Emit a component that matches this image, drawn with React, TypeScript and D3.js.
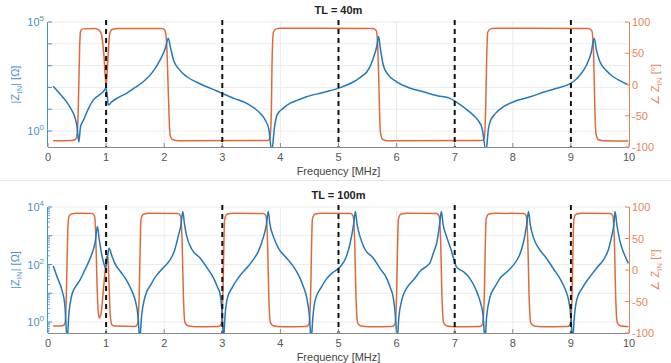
import React from "react";
import * as d3 from "d3";

const xTicks = [0, 1, 2, 3, 4, 5, 6, 7, 8, 9, 10];
const markerFreqs = [1, 3, 5, 7, 9];
const phaseTicks = [-100, -50, 0, 50, 100];

// TL = 40m : |Z_IN| as log10(ohm), phase in degrees
const freqMag40 = [0.09, 0.2, 0.32, 0.4, 0.46, 0.5, 0.53, 0.56, 0.61, 0.7, 0.78, 0.88, 0.95, 1.0, 1.02, 1.04, 1.1, 1.2, 1.35, 1.5, 1.64, 1.8, 1.93, 2.02, 2.07, 2.11, 2.16, 2.25, 2.39, 2.55, 2.73, 2.9, 3.02, 3.2, 3.42, 3.55, 3.65, 3.75, 3.8, 3.85, 3.9, 3.94, 4.05, 4.17, 4.3, 4.45, 4.75, 5.03, 5.2, 5.31, 5.42, 5.49, 5.55, 5.6, 5.66, 5.69, 5.72, 5.77, 5.85, 6.0, 6.2, 6.46, 6.7, 6.92, 7.03, 7.2, 7.32, 7.4, 7.47, 7.54, 7.58, 7.61, 7.7, 7.84, 8.05, 8.3, 8.55, 8.76, 9.04, 9.15, 9.27, 9.35, 9.4, 9.44, 9.5, 9.6, 9.73, 9.85, 9.99];
const logMag40 = [2.06, 1.72, 1.34, 1.0, 0.66, 0.2, -0.5, 0.2, 0.5, 1.05, 1.42, 1.65, 1.8, 1.96, 1.6, 1.19, 1.35, 1.52, 1.73, 2.0, 2.26, 2.7, 3.26, 3.8, 4.25, 3.8, 3.26, 2.85, 2.49, 2.25, 2.03, 1.85, 1.7, 1.5, 1.27, 1.05, 0.82, 0.45, 0.1, -0.9, 0.2, 0.73, 1.05, 1.28, 1.42, 1.57, 1.78, 1.99, 2.18, 2.34, 2.55, 2.72, 3.0, 3.35, 3.9, 4.33, 3.8, 3.03, 2.6, 2.26, 2.0, 1.8, 1.62, 1.5, 1.33, 1.0, 0.73, 0.5, 0.14, -0.9, 0.1, 0.43, 0.8, 1.12, 1.38, 1.57, 1.8, 1.96, 2.26, 2.55, 3.03, 3.6, 4.25, 3.7, 3.18, 2.8, 2.49, 2.3, 2.11];
const freqPh40 = [0.09, 0.4, 0.47, 0.5, 0.52, 0.53, 0.545, 0.56, 0.6, 0.8, 0.88, 0.92, 0.96, 1.0, 1.03, 1.06, 1.1, 1.2, 1.95, 2.01, 2.04, 2.06, 2.08, 2.1, 2.14, 2.25, 3.78, 3.82, 3.845, 3.855, 3.88, 3.93, 4.0, 5.6, 5.65, 5.68, 5.7, 5.72, 5.76, 5.85, 7.47, 7.51, 7.535, 7.55, 7.57, 7.62, 7.7, 9.3, 9.36, 9.39, 9.41, 9.43, 9.47, 9.55, 9.99];
const phase40 = [-90, -89.5, -88, -80, -40, 0, 60, 85, 89, 89.5, 87, 80, 50, -2, 40, 80, 88, 89.5, 89.5, 87, 70, 20, -40, -80, -88, -90, -89.5, -86, -40, 30, 84, 89, 90, 89.5, 86, 50, -20, -75, -88, -90, -89.5, -86, -30, 40, 84, 89, 90, 89.5, 86, 50, -30, -78, -88, -90, -90.5];

// TL = 100m
const freqMag100 = [0.09, 0.16, 0.24, 0.29, 0.33, 0.36, 0.41, 0.48, 0.55, 0.62, 0.69, 0.76, 0.81, 0.85, 0.88, 0.92, 0.96, 0.99, 1.02, 1.05, 1.1, 1.15, 1.25, 1.35, 1.45, 1.5, 1.55, 1.58, 1.61, 1.67, 1.77, 1.87, 2.0, 2.1, 2.18, 2.24, 2.29, 2.32, 2.35, 2.39, 2.47, 2.62, 2.75, 2.85, 2.92, 2.96, 3.0, 3.02, 3.05, 3.08, 3.17, 3.3, 3.45, 3.53, 3.63, 3.71, 3.76, 3.79, 3.82, 3.88, 3.97, 4.11, 4.25, 4.34, 4.41, 4.45, 4.5, 4.53, 4.56, 4.6, 4.7, 4.8, 4.92, 5.03, 5.13, 5.2, 5.26, 5.29, 5.32, 5.37, 5.45, 5.6, 5.72, 5.83, 5.9, 5.94, 5.98, 6.01, 6.04, 6.09, 6.18, 6.29, 6.42, 6.57, 6.65, 6.69, 6.74, 6.77, 6.8, 6.86, 6.94, 7.03, 7.15, 7.26, 7.36, 7.43, 7.49, 7.52, 7.55, 7.61, 7.7, 7.78, 7.9, 8.01, 8.12, 8.18, 8.24, 8.27, 8.3, 8.35, 8.45, 8.58, 8.7, 8.81, 8.9, 8.96, 9.0, 9.03, 9.06, 9.1, 9.2, 9.33, 9.45, 9.56, 9.65, 9.7, 9.74, 9.76, 9.79, 9.84, 9.91, 9.99];
const logMag100 = [1.95, 1.55, 1.11, 0.6, -0.6, 0.3, 0.94, 1.25, 1.46, 1.75, 2.05, 2.4, 2.75, 3.32, 2.9, 2.4, 2.05, 1.88, 2.2, 2.57, 2.3, 2.04, 1.75, 1.46, 1.05, 0.77, 0.2, -0.6, 0.2, 0.88, 1.3, 1.63, 1.92, 2.16, 2.5, 2.97, 3.4, 3.84, 3.4, 2.97, 2.55, 2.22, 1.85, 1.53, 1.2, 1.0, 0.2, -0.6, 0.3, 0.77, 1.2, 1.6, 1.95, 2.16, 2.5, 2.97, 3.4, 3.84, 3.4, 2.97, 2.55, 2.22, 1.85, 1.52, 1.15, 0.88, 0.2, -0.6, 0.2, 0.77, 1.2, 1.52, 1.75, 1.92, 2.25, 2.74, 3.4, 3.84, 3.4, 2.97, 2.55, 2.22, 1.85, 1.52, 1.15, 0.88, 0.2, -0.6, 0.2, 0.77, 1.2, 1.46, 1.8, 2.05, 2.5, 2.74, 3.4, 3.84, 3.4, 2.97, 2.5, 1.92, 1.75, 1.52, 1.15, 0.77, 0.2, -0.6, 0.2, 0.88, 1.25, 1.52, 1.75, 1.98, 2.35, 2.74, 3.4, 3.84, 3.4, 2.97, 2.55, 2.22, 1.85, 1.52, 1.15, 0.77, 0.2, -0.6, 0.2, 0.77, 1.2, 1.58, 1.9, 2.16, 2.55, 2.97, 3.4, 3.84, 3.4, 2.85, 2.4, 2.04];
const freqPh100 = [0.09, 0.25, 0.29, 0.31, 0.325, 0.34, 0.36, 0.4, 0.5, 0.76, 0.8, 0.82, 0.84, 0.86, 0.88, 0.9, 0.92, 0.95, 0.98, 1.01, 1.03, 1.05, 1.07, 1.1, 1.15, 1.5, 1.54, 1.57, 1.585, 1.6, 1.64, 1.75, 2.24, 2.28, 2.31, 2.33, 2.36, 2.42, 2.55, 2.94, 2.98, 3.01, 3.025, 3.04, 3.08, 3.19, 3.71, 3.75, 3.78, 3.8, 3.83, 3.89, 4.02, 4.45, 4.49, 4.52, 4.535, 4.55, 4.59, 4.7, 5.21, 5.25, 5.28, 5.3, 5.33, 5.39, 5.52, 5.93, 5.97, 6.0, 6.015, 6.03, 6.07, 6.18, 6.69, 6.73, 6.76, 6.78, 6.81, 6.87, 7.0, 7.44, 7.48, 7.51, 7.525, 7.54, 7.58, 7.69, 8.19, 8.23, 8.26, 8.28, 8.31, 8.37, 8.5, 8.95, 8.99, 9.02, 9.035, 9.05, 9.09, 9.2, 9.68, 9.72, 9.75, 9.77, 9.8, 9.86, 9.99];
const phase100 = [-89, -88.5, -85, -60, 0, 60, 85, 89, 90, 89.5, 86, 60, -10, -60, -76, -74, -65, -35, -5, 22, 20, -20, -70, -87, -89, -89.5, -86, -40, 30, 80, 88.5, 90, 89.5, 86, 40, -40, -84, -89, -90, -89.5, -86, -40, 30, 80, 88.5, 90, 89.5, 86, 40, -40, -84, -89, -90, -89.5, -86, -40, 30, 80, 88.5, 90, 89.5, 86, 40, -40, -84, -89, -90, -89.5, -86, -40, 30, 80, 88.5, 90, 89.5, 86, 40, -40, -84, -89, -90, -89.5, -86, -40, 30, 80, 88.5, 90, 89.5, 86, 40, -40, -84, -89, -90, -89.5, -86, -40, 30, 80, 88.5, 90, 89.5, 86, 40, -40, -84, -89, -90];

const BLUE = "#2079bb";
const ORANGE = "#e2683a";
const BLUE_TXT = "#4a92c9";
const ORANGE_TXT = "#e48558";
const FONT = "'Liberation Sans', Arial, sans-serif";

type PanelProps = {
  id: string;
  title: string;
  top: number;
  bottom: number;
  logMin: number;
  logMax: number;
  labelDecades: number[];
  minor: boolean;
  fMag: number[];
  vMag: number[];
  fPh: number[];
  vPh: number[];
};

function Panel(p: PanelProps) {
  const left = 48;
  const right = 629;
  const x = d3.scaleLinear().domain([0, 10]).range([left, right]);
  const yMag = d3.scaleLog().domain([10 ** p.logMin, 10 ** p.logMax]).range([p.bottom, p.top]);
  const yPh = d3.scaleLinear().domain([-100, 100]).range([p.bottom, p.top]);

  const magLine = d3
    .line<[number, number]>()
    .x((d) => x(d[0]))
    .y((d) => yMag(10 ** d[1]))
    .curve(d3.curveMonotoneX);
  const phLine = d3
    .line<[number, number]>()
    .x((d) => x(d[0]))
    .y((d) => yPh(d[1]))
    .curve(d3.curveMonotoneX);

  const decades = d3.range(Math.ceil(p.logMin), Math.floor(p.logMax) + 1);
  const minorTicks: number[] = [];
  if (p.minor) {
    for (let k = Math.floor(p.logMin); k < p.logMax; k++) {
      for (let m = 2; m <= 9; m++) {
        const v = m * 10 ** k;
        if (v > 10 ** p.logMin && v < 10 ** p.logMax) minorTicks.push(v);
      }
    }
  }
  const midY = (p.top + p.bottom) / 2;

  return (
    <g fontFamily={FONT}>
      <defs>
        <clipPath id={p.id}>
          <rect x={left} y={p.top - 2} width={right - left} height={p.bottom - p.top + 2} />
        </clipPath>
      </defs>
      {/* grid */}
      {xTicks.slice(1, -1).map((t) => (
        <line key={"gx" + t} x1={x(t)} x2={x(t)} y1={p.top} y2={p.bottom} stroke="#ebebeb" strokeWidth={1} />
      ))}
      {decades.map((k) => (
        <line key={"gy" + k} x1={left} x2={right} y1={yMag(10 ** k)} y2={yMag(10 ** k)} stroke="#ebebeb" strokeWidth={1} />
      ))}
      {/* curves */}
      <g clipPath={`url(#${p.id})`}>
        <path d={phLine(d3.zip(p.fPh, p.vPh) as [number, number][]) || ""} fill="none" stroke={ORANGE} strokeWidth={1.5} />
        <path d={magLine(d3.zip(p.fMag, p.vMag) as [number, number][]) || ""} fill="none" stroke={BLUE} strokeWidth={1.5} />
      </g>
      {/* dashed markers */}
      {markerFreqs.map((f) => (
        <line key={"m" + f} x1={x(f)} x2={x(f)} y1={p.top - 2} y2={p.bottom} stroke="#111" strokeWidth={2} strokeDasharray="5,4" />
      ))}
      {/* x axis */}
      <line x1={left} x2={right} y1={p.bottom + 0.5} y2={p.bottom + 0.5} stroke="#8a8a8a" strokeWidth={1} />
      {xTicks.map((t) => (
        <g key={"xt" + t}>
          <line x1={x(t)} x2={x(t)} y1={p.bottom} y2={p.bottom - 4} stroke="#8a8a8a" />
          <text x={x(t)} y={p.bottom + 14} textAnchor="middle" fontSize={11} fill="#555">
            {t}
          </text>
        </g>
      ))}
      <text x={(left + right) / 2} y={p.bottom + 28} textAnchor="middle" fontSize={11} fill="#444">
        Frequency [MHz]
      </text>
      {/* left axis */}
      <line x1={left - 0.5} x2={left - 0.5} y1={p.top} y2={p.bottom} stroke={BLUE_TXT} strokeWidth={1} />
      {decades.map((k) => (
        <line key={"lt" + k} x1={left} x2={left + 4} y1={yMag(10 ** k)} y2={yMag(10 ** k)} stroke={BLUE_TXT} />
      ))}
      {minorTicks.map((v, i) => (
        <line key={"mt" + i} x1={left} x2={left + 2} y1={yMag(v)} y2={yMag(v)} stroke={BLUE_TXT} strokeWidth={0.8} />
      ))}
      {p.labelDecades.map((k) => (
        <text key={"ll" + k} x={left - 4} y={yMag(10 ** k) + 4} textAnchor="end" fontSize={11} fill={BLUE_TXT}>
          <tspan>10</tspan>
          <tspan dy={-5} fontSize={8}>
            {k}
          </tspan>
        </text>
      ))}
      <text transform={`translate(19,${midY}) rotate(-90)`} textAnchor="middle" fontSize={11} fill={BLUE_TXT}>
        <tspan>|Z</tspan>
        <tspan dy={3} fontSize={8}>IN</tspan>
        <tspan dy={-3}>| [Ω]</tspan>
      </text>
      {/* right axis */}
      <line x1={right + 0.5} x2={right + 0.5} y1={p.top} y2={p.bottom} stroke={ORANGE_TXT} strokeWidth={1} />
      {phaseTicks.map((t) => (
        <g key={"rt" + t}>
          <line x1={right} x2={right - 4} y1={yPh(t)} y2={yPh(t)} stroke={ORANGE_TXT} />
          <text x={right + 3} y={yPh(t) + 4} fontSize={11} fill={ORANGE_TXT}>
            {t}
          </text>
        </g>
      ))}
      <text transform={`translate(659,${midY}) rotate(-90)`} textAnchor="middle" fontSize={11} fill={ORANGE_TXT}>
        <tspan>∠ Z</tspan>
        <tspan dy={3} fontSize={8}>IN</tspan>
        <tspan dy={-3}> [°]</tspan>
      </text>
      {/* title */}
      <text x={(left + right) / 2} y={p.top - 8} textAnchor="middle" fontSize={11} fontWeight="bold" fill="#222">
        {p.title}
      </text>
    </g>
  );
}

export default function App() {
  return (
    <svg width={671} height={363} style={{ position: "absolute", left: 0, top: 0, background: "#fff" }}>
      <rect width={671} height={363} fill="#fff" />
      <line x1={0} x2={671} y1={180.5} y2={180.5} stroke="#e4e4e4" />
      <Panel
        id="clip40"
        title="TL = 40m"
        top={22}
        bottom={147}
        logMin={-0.73}
        logMax={5}
        labelDecades={[0, 5]}
        minor={false}
        fMag={freqMag40}
        vMag={logMag40}
        fPh={freqPh40}
        vPh={phase40}
      />
      <Panel
        id="clip100"
        title="TL = 100m"
        top={207}
        bottom={333}
        logMin={-0.38}
        logMax={4}
        labelDecades={[0, 2, 4]}
        minor={true}
        fMag={freqMag100}
        vMag={logMag100}
        fPh={freqPh100}
        vPh={phase100}
      />
    </svg>
  );
}
